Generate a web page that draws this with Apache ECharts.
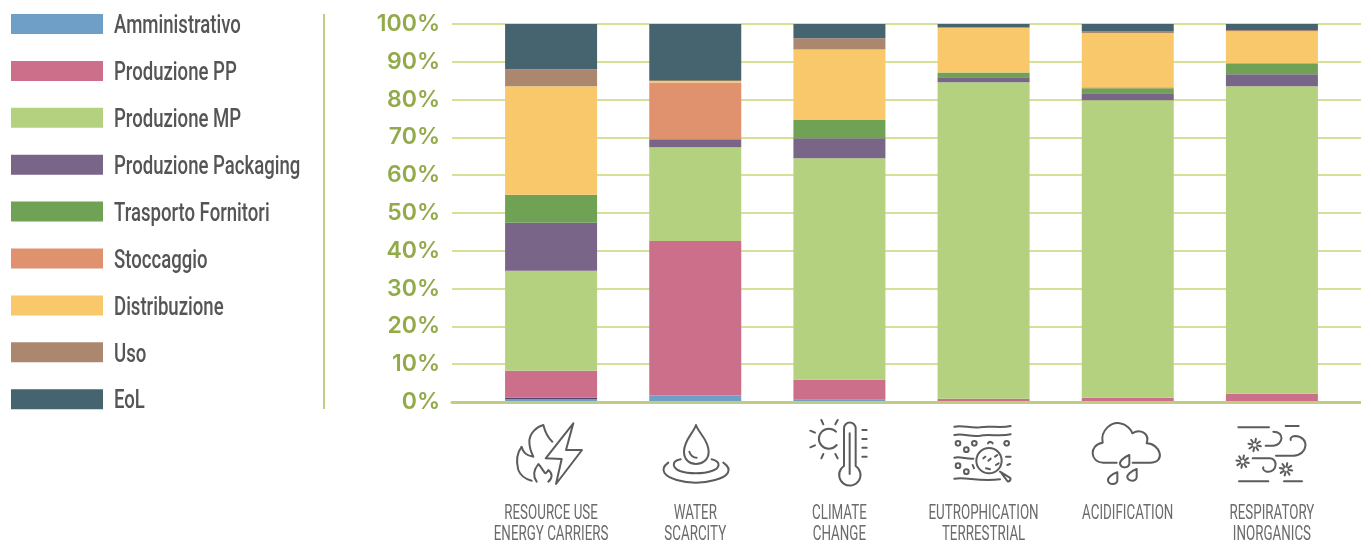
<!DOCTYPE html>
<html><head><meta charset="utf-8">
<style>html,body{margin:0;padding:0;background:#fff}#c{width:1361px;height:541px}</style>
<script src="https://cdn.jsdelivr.net/npm/echarts@6/dist/echarts.min.js"></script>
</head><body><div id="c"></div>
<script>
const categories = ['RESOURCE USE\nENERGY CARRIERS','WATER\nSCARCITY','CLIMATE\nCHANGE','EUTROPHICATION\nTERRESTRIAL','ACIDIFICATION','RESPIRATORY\nINORGANICS'];
const yTicks = [0,10,20,30,40,50,60,70,80,90,100];
const amministrativo = [0.8,1.75,0.6,0,0,0];
const sottile1 = [0.3,0,0,0,0,0];
const produzionePP = [7.2,40.85,5.3,0.87,1.14,2.2];
const produzioneMP = [26.4,24.8,58.6,83.73,78.66,81.3];
const produzionePackaging = [12.7,2.1,5.3,1.3,1.9,3.2];
const trasportoFornitori = [7.4,0,4.8,1.3,1.3,2.9];
const stoccaggio = [0,15,0,0,0.3,0];
const distribuzione = [28.7,0.4,18.7,11.9,14.3,8.5];
const sottile2 = [0,0.2,0.3,0,0.25,0];
const uso = [4.5,0,2.6,0,0.3,0.3];
const eol = [12,14.9,3.8,0.9,1.85,1.6];

const seriesDefs = [
 ['Amministrativo',amministrativo,'#6f9fc6'],
 ['',sottile1,'#4f4470'],
 ['Produzione PP',produzionePP,'#cb6f8a'],
 ['Produzione MP',produzioneMP,'#b4d180'],
 ['Produzione Packaging',produzionePackaging,'#786587'],
 ['Trasporto Fornitori',trasportoFornitori,'#6fa255'],
 ['Stoccaggio',stoccaggio,'#e0916d'],
 ['Distribuzione',distribuzione,'#f9c86b'],
 [' ',sottile2,'#8f6438'],
 ['Uso',uso,'#ab8770'],
 ['EoL',eol,'#456470']
];
const legendNames = ['Amministrativo','Produzione PP','Produzione MP','Produzione Packaging','Trasporto Fornitori','Stoccaggio','Distribuzione','Uso','EoL'];

function star(cx,cy){
  let d='';
  for(let i=0;i<8;i++){const a=i*Math.PI/4+0.2;
    d+='M'+(cx+8*Math.cos(a)).toFixed(1)+' '+(cy+8*Math.sin(a)).toFixed(1)+'L'+(cx+19*Math.cos(a)).toFixed(1)+' '+(cy+19*Math.sin(a)).toFixed(1);}
  return d;
}
function circ(cx,cy,r){return 'M'+(cx-r)+' '+cy+'A'+r+' '+r+' 0 1 0 '+(cx+r)+' '+cy+'A'+r+' '+r+' 0 1 0 '+(cx-r)+' '+cy+'Z';}

const iconPaths = [
 ['M280 100L197 205L245 207L228 282L306 180L258 180ZM217 155C200 140 195 125 190 105C170 110 148 130 148 155C148 175 155 190 160 200C140 198 128 185 125 170C110 190 108 215 115 240C122 258 138 268 155 272M170 275C155 255 165 235 175 222C185 232 190 245 196 250C200 248 205 242 205 240C218 250 218 265 205 275',480],
 ['M648 105C640 130 612 150 612 185C612 210 630 222 648 222C666 222 686 210 686 185C686 150 656 130 648 105ZM628 185C630 195 640 203 650 203M602 208C570 215 580 235 600 243C625 252 670 252 695 243C720 235 725 215 695 208M565 218C535 240 555 260 590 270C625 280 670 280 705 270C745 260 760 240 730 218',480],
 ['M1092 228L1092 115A17.5 17.5 0 0 1 1127 115L1127 228A32 32 0 1 1 1092 228ZM1109 130L1109 252M1147 120H1160M1147 147H1160M1147 173H1160M1147 200H1160M1068 125A30 30 0 1 0 1070 165M1030 103L1024 90M1066 103L1073 90M1005 128L991 122M1005 166L991 172M1030 192L1024 205M1066 192L1073 205',480],
 ['M103 110C130 104 150 116 180 112C210 106 240 116 272 108M103 135C130 129 150 141 180 137C210 131 240 141 272 133M103 203C120 198 140 208 160 206M258 200H272M103 266C140 260 170 275 240 268M240 245L268 262A6 6 0 0 1 262 273L245 250M204 160A8 8 0 0 1 218 160M190 205L196 200M205 212L212 206M225 200L232 195M228 225L236 220M198 235L210 238M158 225L162 235M262 225L270 222'
 +circ(114,160,7)+circ(163,160,7)+circ(260,160,7)+circ(139,179,7)+circ(114,227,7)+circ(139,245,7)+circ(207,212,38),920],
 ['M590 218H550C510 218 505 165 548 158C540 120 575 95 600 100C620 103 635 120 637 130C660 115 690 130 680 160C720 160 740 218 690 218H638M628 195C610 202 598 215 600 222C604 236 625 235 628 222ZM592 247C574 252 562 265 564 272C568 286 590 285 592 272ZM650 237C632 244 620 256 622 262C626 276 648 275 650 262Z',920],
 ['M955 112H1047M1097 108H1136M957 274H1045M1092 274H1146M1037 167H1060C1090 165 1095 125 1060 125M1068 197H1120C1165 195 1170 140 1125 138C1115 138 1110 145 1112 150M998 205H1050C1075 205 1072 250 1040 245C1030 243 1028 235 1030 232'
 +star(1004,165)+star(968,215)+star(1098,238),920]
];
const iconStyle = {stroke:'#5c5c5c',fill:'none',lineWidth:6,lineCap:'round',lineJoin:'round'};

const chart = echarts.init(document.getElementById('c'),null,{renderer:'canvas'});
const barSeries = seriesDefs.map(function(s){return {
    name:s[0],type:'bar',stack:'t',xAxisIndex:0,yAxisIndex:0,barWidth:92,
    data:s[1],itemStyle:{color:s[2]},silent:true};});
const iconSeries = {
  type:'custom',coordinateSystem:'none',silent:true,
  data:iconPaths.map(function(_,i){return i;}),
  renderItem:function(params){
    const ic=iconPaths[params.dataIndex];
    return {type:'path',x:ic[1],y:390,scaleX:1/3,scaleY:1/3,shape:{pathData:ic[0]},style:iconStyle,silent:true};
  }
};
// condensed text: no condensed face is installed, so Roboto is narrowed horizontally
const legendTextSeries = {
  type:'custom',coordinateSystem:'none',silent:true,
  data:legendNames.map(function(_,i){return i;}),
  renderItem:function(params){
    const i=params.dataIndex;
    return {type:'text',x:114,y:27+46.9*i,scaleX:0.743,silent:true,
      style:{text:legendNames[i],fontFamily:'Roboto',fontSize:25,fontWeight:500,fill:'#555',align:'left',verticalAlign:'middle'}};
  }
};
const categoryTextSeries = {
  type:'custom',coordinateSystem:'cartesian2d',xAxisIndex:0,yAxisIndex:0,silent:true,
  clip:false,
  data:categories.map(function(_,i){return [i,0];}),
  encode:{x:0,y:1},
  renderItem:function(params,api){
    const p=api.coord([api.value(0),0]);
    return {type:'text',x:p[0],y:502.5,scaleX:0.636,silent:true,
      style:{text:categories[params.dataIndex],fontFamily:'Roboto',fontSize:21,lineHeight:21.5,fill:'#6b6b6b',align:'center',verticalAlign:'top'}};
  }
};
chart.setOption({
  animation:false,
  backgroundColor:'#fff',
  legend:{
    data:legendNames, orient:'vertical', left:11, top:14, padding:0,
    itemWidth:92, itemHeight:20, itemGap:26.9, icon:'rect', selectedMode:false,
    itemStyle:{borderWidth:0},
    formatter:function(){return '';},
    textStyle:{fontSize:12,lineHeight:20}
  },
  grid:[
    {left:479,width:865,top:24,bottom:139,outerBoundsMode:'none'},
    {left:452,right:0,top:24,bottom:139,outerBoundsMode:'none'}
  ],
  xAxis:[
    {type:'category',gridIndex:0,data:categories,
     axisLine:{show:false},axisTick:{show:false},axisLabel:{show:false}},
    {type:'value',gridIndex:1,min:0,max:1,z:6,
     axisLabel:{show:false},axisTick:{show:false},splitLine:{show:false},
     axisLine:{show:true,onZero:false,lineStyle:{color:'#c0cc80',width:3}}}
  ],
  yAxis:[
    {type:'value',gridIndex:0,min:0,max:100,show:false},
    {type:'value',gridIndex:1,min:0,max:100,interval:10,
     axisLine:{show:false},axisTick:{show:false},
     axisLabel:{margin:12,padding:[8,0,0,0],formatter:function(v){return yTicks.includes(v)?v+'%':'';},fontFamily:'Inter,"Open Sans",sans-serif',fontWeight:600,fontSize:23,color:'#93aa4a'},
     splitLine:{show:true,lineStyle:{color:'#d3e296',width:2}}}
  ],
  series:barSeries.concat([iconSeries,legendTextSeries,categoryTextSeries]),
  graphic:[
    {type:'line',shape:{x1:324,y1:14,x2:324,y2:409},style:{stroke:'#bccf85',lineWidth:2},silent:true}
  ]
});
</script></body></html>
